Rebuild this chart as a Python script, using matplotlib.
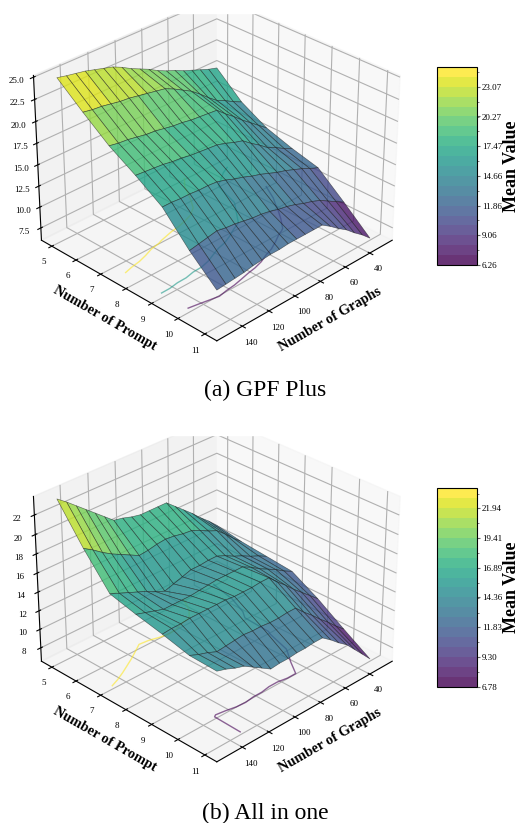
import numpy as np
import matplotlib
matplotlib.use("Agg")
import matplotlib.pyplot as plt
from matplotlib.patches import Rectangle
from matplotlib.cm import ScalarMappable
from matplotlib.colors import Normalize

plt.rcParams["font.family"] = ["Liberation Serif", "DejaVu Serif"]

prompts = [5, 6, 7, 8, 9, 10, 11]
graphs = np.linspace(30, 150, 19)
graph_ticks = [40, 60, 80, 100, 120, 140]

# rows are prompts, columns go with graphs
gpf_plus = [
    [17.8, 18.1, 18.5, 18.9, 19.3, 19.8, 20.2, 20.7, 21.3, 21.8, 22.3, 22.9, 23.4, 23.7, 24.0, 24.3, 24.5, 24.7, 24.94],
    [15.1, 15.6, 16.2, 16.7, 17.5, 18.4, 19.2, 19.8, 20.4, 20.9, 21.1, 21.3, 21.5, 21.7, 21.8, 22.0, 22.2, 22.3, 22.5],
    [13.4, 14.2, 15.0, 15.8, 16.7, 17.5, 18.4, 18.5, 18.6, 18.7, 18.9, 19.0, 19.2, 19.4, 19.5, 19.7, 19.9, 20.0, 20.2],
    [12.4, 12.9, 13.5, 14.0, 14.8, 15.5, 16.3, 16.6, 17.0, 17.3, 17.4, 17.5, 17.6, 17.8, 17.9, 18.1, 18.2, 18.3, 18.4],
    [11.6, 12.0, 12.5, 12.9, 13.3, 13.6, 14.0, 14.4, 14.7, 15.1, 15.4, 15.8, 16.1, 16.2, 16.2, 16.3, 16.3, 16.4, 16.4],
    [9.0, 9.6, 10.2, 10.8, 11.2, 11.5, 11.9, 12.2, 12.4, 12.7, 12.9, 13.0, 13.2, 13.4, 13.5, 13.7, 13.5, 13.3, 13.1],
    [6.26, 7.2, 8.0, 8.9, 9.6, 10.4, 11.1, 11.1, 11.1, 11.1, 11.1, 11.0, 11.0, 10.9, 10.8, 10.6, 10.5, 10.4, 10.3],
]
all_in_one = [
    [13.2, 14.1, 14.9, 15.8, 16.6, 17.4, 18.2, 18.2, 18.2, 18.2, 18.4, 18.7, 18.9, 19.7, 20.5, 21.3, 22.1, 22.9, 23.63],
    [12.7, 13.5, 14.4, 15.2, 15.6, 16.1, 16.5, 16.6, 16.8, 16.9, 16.8, 16.6, 16.5, 17.0, 17.5, 18.0, 18.6, 19.3, 19.9],
    [12.4, 12.9, 13.3, 13.8, 14.2, 14.7, 15.1, 15.1, 15.0, 15.0, 14.7, 14.4, 14.1, 14.5, 15.0, 15.4, 15.8, 16.2, 16.6],
    [12.1, 12.6, 13.2, 13.7, 14.2, 14.8, 15.3, 15.3, 15.3, 15.3, 15.2, 15.1, 15.0, 15.0, 15.0, 15.0, 15.3, 15.6, 15.9],
    [10.5, 11.3, 12.1, 12.9, 13.8, 14.6, 15.5, 15.5, 15.4, 15.4, 15.4, 15.5, 15.5, 15.5, 15.5, 15.5, 15.4, 15.4, 15.3],
    [8.6, 9.4, 10.3, 11.1, 12.0, 12.8, 13.7, 13.7, 13.6, 13.6, 13.7, 13.7, 13.8, 13.7, 13.6, 13.5, 13.9, 14.2, 14.6],
    [6.78, 7.8, 8.8, 9.8, 10.5, 11.3, 12.0, 12.0, 11.9, 11.9, 11.8, 11.8, 11.7, 12.3, 12.9, 13.5, 13.8, 14.2, 14.5],
]
levels_a = [13.4, 16.6, 19.3]
levels_b = [13.6, 16.7]
z_ticks_a = [7.5, 10, 12.5, 15, 17.5, 20, 22.5, 25]
z_ticks_b = [8, 10, 12, 14, 16, 18, 20, 22]
cbar_ticks_a = [6.26, 9.06, 11.86, 14.66, 17.47, 20.27, 23.07]
cbar_ticks_b = [6.78, 9.30, 11.83, 14.36, 16.89, 19.41, 21.94]

W, H = 519, 823
cmap = plt.get_cmap("viridis").resampled(20)
fig = plt.figure(figsize=(W / 100, H / 100), dpi=100)


def panel(values, levels, z_ticks, ticks, box, cbar_box):
    ax = fig.add_axes([box[0] / W, 1 - (box[1] + box[3]) / H, box[2] / W, box[3] / H], projection="3d")
    X, Y = np.meshgrid(graphs, prompts)
    Z = np.array(values)
    norm = Normalize(Z.min(), Z.max())
    ax.plot_surface(X, Y, Z, cmap=cmap, norm=norm, rstride=1, cstride=1,
                    edgecolor=(0.1, 0.1, 0.1, 0.6), linewidth=0.45, alpha=0.8)
    ax.contour(X, Y, Z, levels=levels, zdir="z", offset=Z.min(), cmap="viridis", alpha=0.6, linewidths=1)
    ax.set_zlim(Z.min() - 0.25, Z.max() + 0.25)
    ax.set_xticks(graph_ticks)
    ax.set_yticks(prompts)
    ax.set_zticks(z_ticks)
    ax.view_init(elev=30, azim=45)
    ax.tick_params(labelsize=6.5, pad=-1)
    ax.set_xlabel("Number of Graphs", fontsize=10.3, fontweight="bold", labelpad=-3.5)
    ax.set_ylabel("Number of Prompt", fontsize=10.3, fontweight="bold", labelpad=-4.5)

    cax = fig.add_axes([cbar_box[0] / W, 1 - (cbar_box[1] + cbar_box[3]) / H, cbar_box[2] / W, cbar_box[3] / H])
    sm = ScalarMappable(norm=norm, cmap=cmap)
    cb = fig.colorbar(sm, cax=cax, alpha=0.8)
    cb.set_ticks(ticks)
    cb.set_ticklabels(["%.2f" % t for t in ticks])
    step = (ticks[1] - ticks[0]) / 2
    cb.ax.set_yticks(np.arange(ticks[0], Z.max(), step), minor=True)
    cb.ax.tick_params(labelsize=6.5, pad=1, length=2.5, color="#666666")
    cb.ax.tick_params(which="minor", length=1.5, color="#666666")
    fig.text(511.5 / W, 1 - (cbar_box[1] + cbar_box[3] / 2) / H, "Mean Value", rotation=90,
             ha="center", va="center", fontsize=13, fontweight="bold")
    return ax


panel(gpf_plus, levels_a, z_ticks_a, cbar_ticks_a, (14.5, -32, 394, 394), (437, 67, 40, 198))
panel(all_in_one, levels_b, z_ticks_b, cbar_ticks_b, (14.5, 389, 394, 394), (437, 488, 40, 199))

# the source images are cropped above the panes
fig.add_artist(Rectangle((0, 1 - 13 / H), 1, 13 / H, transform=fig.transFigure, color="white", zorder=5))
fig.add_artist(Rectangle((0, 1 - 435 / H), 1, 60 / H, transform=fig.transFigure, color="white", zorder=5))

fig.text(265 / W, 1 - 390 / H, "(a) GPF Plus", ha="center", va="center", fontsize=17, zorder=6)
fig.text(265 / W, 1 - 813 / H, "(b) All in one", ha="center", va="center", fontsize=17, zorder=6)

fig.savefig("out.png", dpi=100)
